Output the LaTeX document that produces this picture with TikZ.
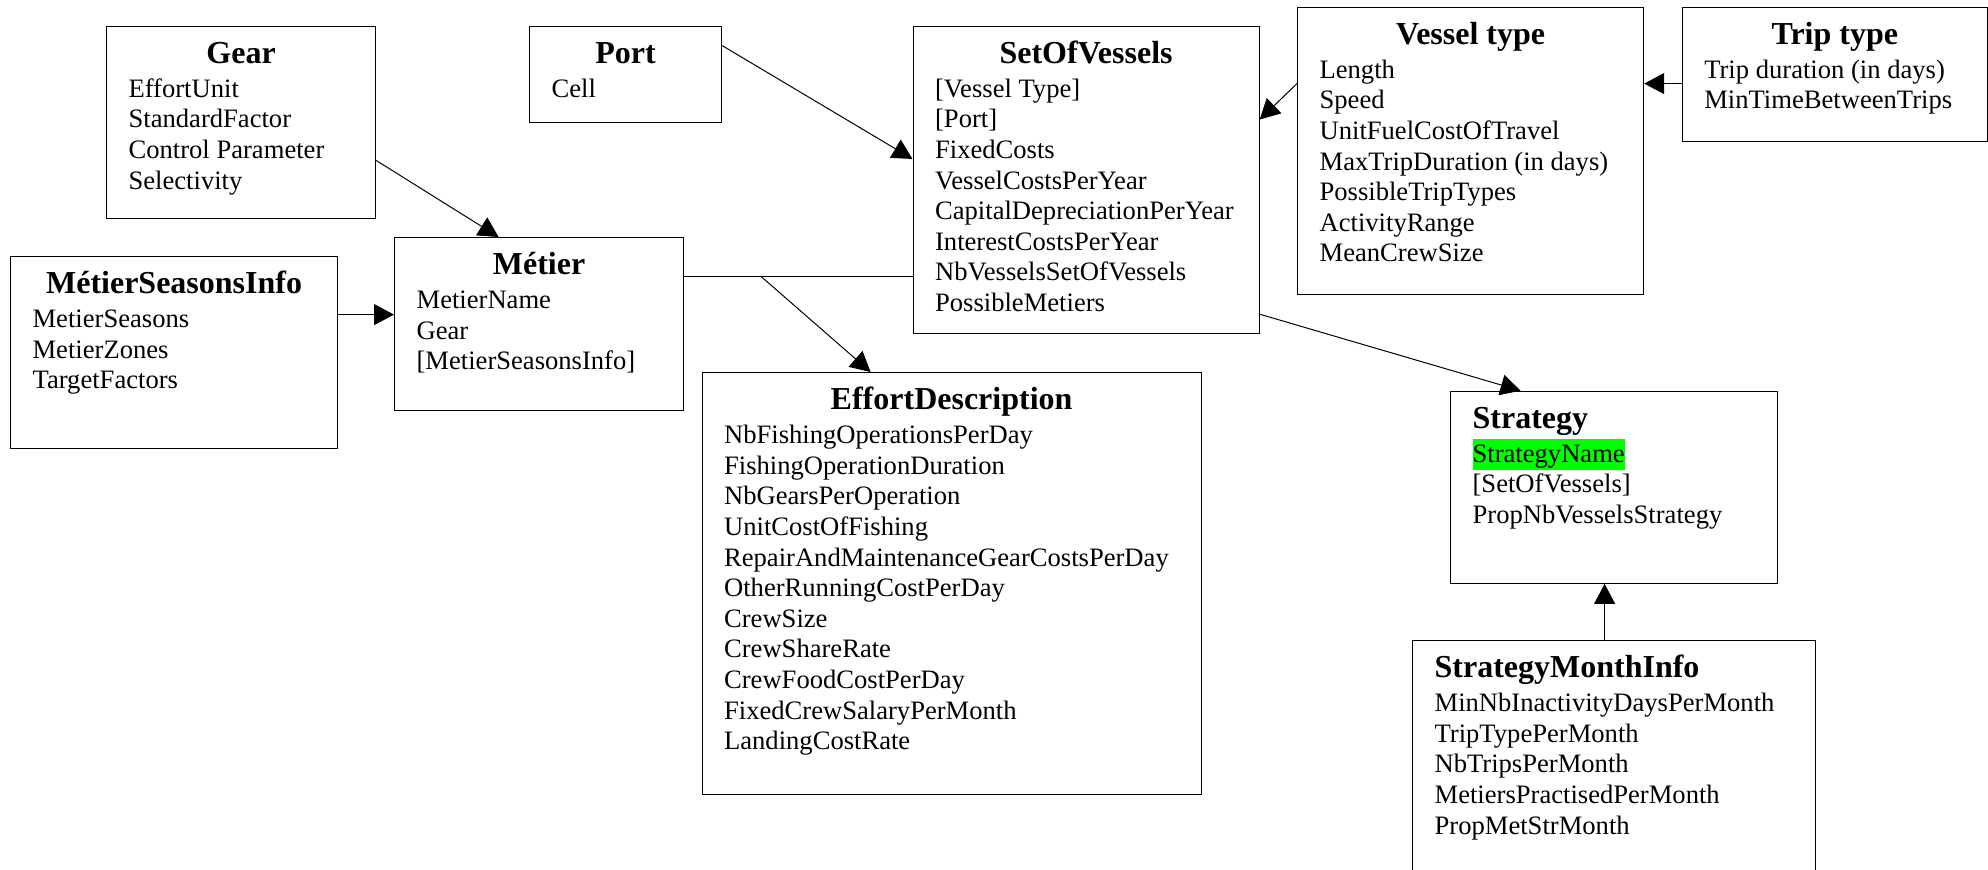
\documentclass[tikz,border=0pt]{standalone}
\usepackage{fontspec}
\setmainfont{Liberation Serif}
\usetikzlibrary{arrows.meta, positioning}
\definecolor{highlight}{RGB}{0,255,0}
\tikzstyle{class}=[draw, line width=0.6pt, rectangle, inner sep=0pt, anchor=north west]
\tikzstyle{assoc}=[-{Triangle[length=10pt, width=10.5pt]}, line width=0.5pt]
\tikzstyle{link}=[line width=0.5pt]
% width, height, title alignment, title, attributes
\newcommand{\umlbox}[5]{\parbox[t][#2][t]{#1}{\lineskiplimit=-\maxdimen
  \fontsize{13.3}{15.3}\selectfont
  {#3\fontsize{16}{17}\bfseries\selectfont\rule{0pt}{18.5pt}#4\par}%
  \vspace{1.7pt}%
  \raggedright\leftskip=11pt\relax #5\par}}
\newcommand{\lefttitle}{\raggedright\leftskip=11pt\relax}

\begin{document}
\begin{tikzpicture}[x=0.5pt, y=-0.5pt]
\useasboundingbox (0,0) rectangle (1988,869);

\node[class] (gear) at (106,25.7) {\umlbox{134.5pt}{96.15pt}{\centering}{Gear}
  {EffortUnit\\ StandardFactor\\ Control Parameter\\ Selectivity}};
\node[class] (port) at (529,25.7) {\umlbox{96pt}{48pt}{\centering}{Port}
  {Cell}};
\node[class] (sov) at (912.5,25.7) {\umlbox{173pt}{153.65pt}{\centering}{SetOfVessels}
  {{[Vessel Type]}\\ {[Port]}\\ FixedCosts\\ VesselCostsPerYear\\ CapitalDepreciationPerYear\\
   InterestCostsPerYear\\ NbVesselsSetOfVessels\\ PossibleMetiers}};
\node[class] (vtype) at (1297,6.7) {\umlbox{173pt}{143.65pt}{\centering}{Vessel type}
  {Length\\ Speed\\ UnitFuelCostOfTravel\\ MaxTripDuration (in days)\\ PossibleTripTypes\\
   ActivityRange\\ MeanCrewSize}};
\node[class] (ttype) at (1681.7,6.7) {\umlbox{152.5pt}{67pt}{\centering}{Trip type}
  {Trip duration (in days)\\ MinTimeBetweenTrips}};

\node[class] (msi) at (10,256) {\umlbox{163.5pt}{96pt}{\centering}{MétierSeasonsInfo}
  {MetierSeasons\\ MetierZones\\ TargetFactors}};
\node[class] (metier) at (394,237) {\umlbox{144.5pt}{86.5pt}{\centering}{Métier}
  {MetierName\\ Gear\\ {[MetierSeasonsInfo]}}};
\node[class] (effort) at (701.5,372) {\umlbox{249.5pt}{211pt}{\centering}{EffortDescription}
  {NbFishingOperationsPerDay\\ FishingOperationDuration\\ NbGearsPerOperation\\ UnitCostOfFishing\\
   RepairAndMaintenanceGearCostsPerDay\\ OtherRunningCostPerDay\\ CrewSize\\ CrewShareRate\\
   CrewFoodCostPerDay\\ FixedCrewSalaryPerMonth\\ LandingCostRate}};

\node[class] (strategy) at (1450,390.7) {\umlbox{163.5pt}{96pt}{\lefttitle}{Strategy}
  {\setlength{\fboxsep}{0pt}\colorbox{highlight}{\rule[-4pt]{0pt}{15.5pt}StrategyName}\\
   {[SetOfVessels]}\\ PropNbVesselsStrategy}};
\node[class] (smi) at (1412,640) {\umlbox{201.5pt}{120pt}{\lefttitle}{StrategyMonthInfo}
  {MinNbInactivityDaysPerMonth\\ TripTypePerMonth\\ NbTripsPerMonth\\ MetiersPractisedPerMonth\\
   PropMetStrMonth}};

\coordinate (msiin) at ([yshift=4.75pt]metier.west);
\coordinate (junction) at ([yshift=23.75pt]metier.east);
\coordinate (branch) at ([xshift=38.5pt]junction);
\coordinate (tripout) at ([yshift=-4.65pt]ttype.west);
\coordinate (smiout) at ([xshift=-4.75pt]smi.north);

\draw [assoc] ([yshift=-19pt]gear.east) -- ([xshift=-20.25pt]metier.north);
\draw [assoc] ([yshift=14.35pt]port.east) -- ([yshift=10.5pt]sov.west);
\draw [assoc] (msi.east |- msiin) -- (msiin);
\draw [link] (junction) -- (sov.west |- junction);
\draw [assoc] (branch) -- ([xshift=-40.5pt]effort.north);
\draw [assoc] ([yshift=33.7pt]vtype.west) -- ([yshift=30.2pt]sov.east);
\draw [assoc] (tripout) -- (vtype.east |- tripout);
\draw [assoc] ([yshift=10pt]sov.south east) -- ([xshift=-46.75pt]strategy.north);
\draw [assoc] (smiout) -- (strategy.south -| smiout);
\end{tikzpicture}
\end{document}
